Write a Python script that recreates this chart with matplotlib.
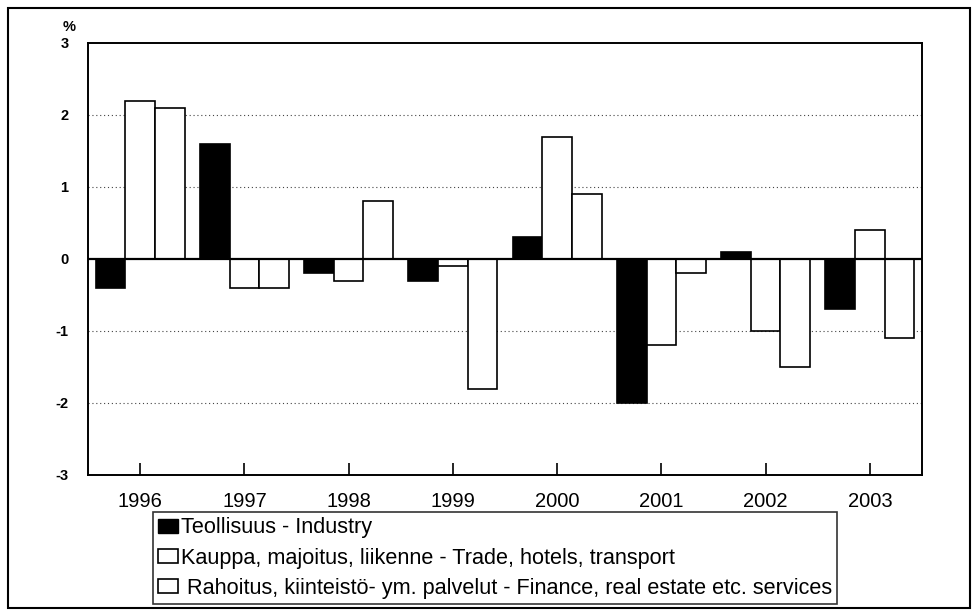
import matplotlib
matplotlib.use("Agg")
import matplotlib.pyplot as plt
from matplotlib.patches import Rectangle, Patch
import numpy as np

plt.rcParams['font.family'] = ['Liberation Sans', 'DejaVu Sans']

years = ['1996', '1997', '1998', '1999', '2000', '2001', '2002', '2003']
industry = [-0.4, 1.6, -0.2, -0.3, 0.3, -2.0, 0.1, -0.7]
trade = [2.2, -0.4, -0.3, -0.1, 1.7, -1.2, -1.0, 0.4]
finance = [2.1, -0.4, 0.8, -1.8, 0.9, -0.2, -1.5, -1.1]
labels = ['Teollisuus - Industry',
          'Kauppa, majoitus, liikenne - Trade, hotels, transport',
          ' Rahoitus, kiinteistö- ym. palvelut - Finance, real estate etc. services']
yticks = [-3, -2, -1, 0, 1, 2, 3]

W, H = 973, 613
fig = plt.figure(figsize=(W / 100, H / 100), dpi=100)
ax = fig.add_axes([88 / W, 1 - 475 / H, (922 - 88) / W, (475 - 43) / H])

x = np.arange(len(years))
bw = 0.285
ax.bar(x - bw, industry, bw, color='black', edgecolor='black', linewidth=1.2, zorder=3)
ax.bar(x, trade, bw, color='white', edgecolor='black', linewidth=1.2, zorder=3)
ax.bar(x + bw, finance, bw, color='white', edgecolor='black', linewidth=1.2, zorder=3)

for g in [-2, -1, 1, 2]:
    ax.axhline(g, color='#444444', linestyle=(0, (1, 2.5)), linewidth=0.8, zorder=1)
ax.axhline(0, color='black', linewidth=1.6, zorder=4)

ax.set_xlim(-0.5, len(years) - 0.5)
ax.set_ylim(-3, 3)
ax.set_yticks(yticks)
ax.set_yticklabels([str(v) for v in yticks], fontweight='bold', fontsize=10.5)
ax.tick_params(axis='y', length=0, pad=14)
ax.set_xticks(x)
ax.set_xticklabels(years, fontsize=14.5)
ax.tick_params(axis='x', direction='in', length=9, width=1.2, pad=12.5)
for s in ax.spines.values():
    s.set_linewidth(1.4)

fig.text(69 / W, 1 - 27 / H, '%', fontweight='bold', fontsize=10.5, ha='center', va='center')

handles = [Patch(facecolor='black', edgecolor='black'),
           Patch(facecolor='white', edgecolor='black', linewidth=1.2),
           Patch(facecolor='white', edgecolor='black', linewidth=1.2)]
leg = fig.legend(handles, labels, loc='upper left', bbox_to_anchor=(153 / W, 1 - 512 / H),
                 fontsize=15.6, frameon=True, fancybox=False, edgecolor='black',
                 handlelength=0.92, handleheight=0.62, handletextpad=0.1, borderpad=0.25,
                 labelspacing=0.42, borderaxespad=0)
leg.get_frame().set_linewidth(1.2)

fig.patches.append(Rectangle((8 / W, 1 - 608 / H), (970 - 8) / W, (608 - 8) / H,
                             transform=fig.transFigure, fill=False, edgecolor='black',
                             linewidth=1.5))

fig.savefig('out.png', dpi=100)
